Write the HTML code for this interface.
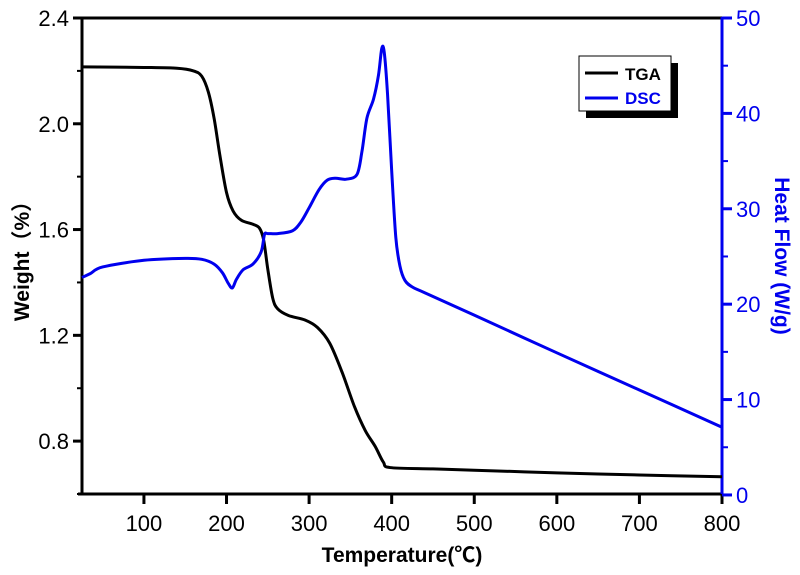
<!DOCTYPE html>
<html><head><meta charset="utf-8"><style>
body{margin:0;background:#fff}
svg text{font-family:"Liberation Sans","Noto Sans CJK SC",sans-serif}
</style></head><body>
<svg id="c" width="800" height="570"></svg>
<script>
const xTicks=[100,200,300,400,500,600,700,800];
const yLeftTicks=[0.8,1.2,1.6,2.0,2.4];
const yRightTicks=[0,10,20,30,40,50];
const tgaT=[25,100,140,160,170,178,185,192,200,208,218,232,240,245,250,256,262,275,295,310,325,340,355,368,380,390,398,450,500,600,700,800];
const tgaW=[2.215,2.213,2.21,2.2,2.18,2.12,2.02,1.88,1.74,1.67,1.635,1.62,1.605,1.56,1.45,1.34,1.3,1.275,1.258,1.23,1.17,1.06,0.93,0.84,0.78,0.72,0.7,0.695,0.69,0.68,0.672,0.665];
const dscT=[25,35,50,100,150,170,185,195,202,207,212,220,232,242,246,250,262,280,290,300,312,322,332,345,358,364,370,378,384,388,391,395,400,405,410,416,425,440,500,600,700,800];
const dscH=[22.8,23.2,23.9,24.6,24.8,24.7,24.2,23.3,22.2,21.7,22.6,23.6,24.2,25.5,27.3,27.4,27.4,27.7,28.6,30.1,32,33,33.2,33.1,33.6,36,39.5,41.5,44,46.8,46.4,42,34,27,24,22.5,21.8,21.2,18.85,14.9,11.0,7.1];
const L=82,R=722,T=18,B=494;
const X=v=>L+(v-25)/(800-25)*(R-L);
const YL=v=>B-(v-0.6)/(2.4-0.6)*(B-T);
const YR=v=>B-(v-0.1)/(50-0.1)*(B-T);
const svg=document.getElementById('c');
function add(tag,attrs,txt){const e=document.createElementNS('http://www.w3.org/2000/svg',tag);for(const k in attrs)e.setAttribute(k,attrs[k]);if(txt!==undefined)e.textContent=txt;svg.appendChild(e);return e;}
function smooth(p){let d='M'+p[0][0]+','+p[0][1];for(let i=0;i<p.length-1;i++){const p0=p[i-1]||p[i],p1=p[i],p2=p[i+1],p3=p[i+2]||p2;const t=0.16;d+=' C'+(p1[0]+(p2[0]-p0[0])*t)+','+(p1[1]+(p2[1]-p0[1])*t)+' '+(p2[0]-(p3[0]-p1[0])*t)+','+(p2[1]-(p3[1]-p1[1])*t)+' '+p2[0]+','+p2[1];}return d;}
let e;
e=add('line',{x1:L,y1:T,x2:R,y2:T,stroke:'#000','stroke-width':3});


e=add('line',{x1:L-4,y1:B,x2:R,y2:B,stroke:'#000','stroke-width':3});


e=add('line',{x1:L,y1:T,x2:L,y2:B+1,stroke:'#000','stroke-width':3});


e=add('line',{x1:R,y1:T-1,x2:R,y2:B+1,stroke:'#0000ee','stroke-width':3});


xTicks.forEach(v=>{
 e=add('line',{x1:X(v),y1:B,x2:X(v),y2:B+10,stroke:'#000','stroke-width':3});
 
 
 e=add('text',{x:X(v),y:B+37,'font-size':22,'text-anchor':'middle'},v);
 
 
});
yLeftTicks.forEach(v=>{
 e=add('line',{x1:L-9,y1:YL(v),x2:L,y2:YL(v),stroke:'#000','stroke-width':3});
 
 
 e=add('line',{x1:L-5,y1:YL(v-0.2),x2:L,y2:YL(v-0.2),stroke:'#000','stroke-width':2});
 
 
 e=add('text',{x:L-13,y:YL(v)+8,'font-size':22,'text-anchor':'end'},v.toFixed(1));
 
 
});
yRightTicks.forEach(v=>{
 e=add('line',{x1:R,y1:YR(v),x2:R+10,y2:YR(v),stroke:'#0000ee','stroke-width':3});
 
 
 if(v<50){e=add('line',{x1:R,y1:YR(v+5),x2:R+6,y2:YR(v+5),stroke:'#0000ee','stroke-width':2});
 
 }
 e=add('text',{x:R+14,y:YR(v)+8,'font-size':22,fill:'#0000ee'},v);
 
 
});
e=add('path',{d:smooth(tgaT.map((t,i)=>[X(t),YL(tgaW[i])])),fill:'none',stroke:'#000','stroke-width':3,'stroke-linejoin':'round'});


e=add('path',{d:smooth(dscT.map((t,i)=>[X(t),YR(dscH[i])])),fill:'none',stroke:'#0000ee','stroke-width':3,'stroke-linejoin':'round'});


e=add('text',{x:(L+R)/2,y:562,'font-size':21,'font-weight':'bold','text-anchor':'middle'},'Temperature(℃)');


e=add('text',{x:0,y:0,'font-size':21,'font-weight':'bold','text-anchor':'middle',transform:'translate(29,256) rotate(-90)'},'Weight（%）');


e=add('text',{x:0,y:0,'font-size':21,'font-weight':'bold','text-anchor':'middle',fill:'#0000ee',transform:'translate(775,256) rotate(90)'},'Heat Flow (W/g)');


e=add('rect',{x:586,y:63,width:92,height:55,fill:'#000'});


e=add('rect',{x:579,y:56,width:92,height:55,fill:'#fff',stroke:'#000','stroke-width':1});


e=add('line',{x1:585,y1:73,x2:618,y2:73,stroke:'#000','stroke-width':3});


e=add('text',{x:625,y:80,'font-size':17,'font-weight':'bold'},'TGA');


e=add('line',{x1:585,y1:98,x2:618,y2:98,stroke:'#0000ee','stroke-width':3});


e=add('text',{x:625,y:104,'font-size':17,'font-weight':'bold',fill:'#0000ee'},'DSC');


</script>
</body></html>
